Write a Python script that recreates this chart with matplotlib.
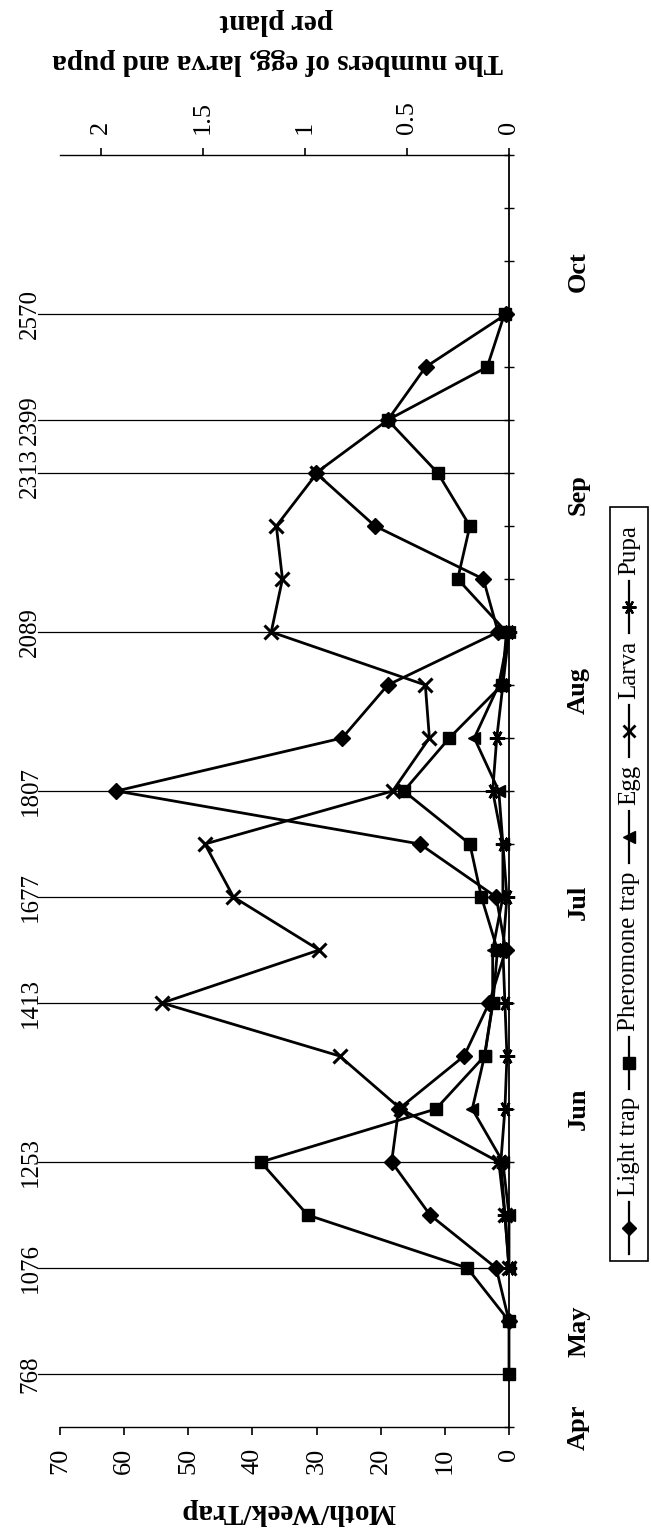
import matplotlib
matplotlib.use('Agg')
import matplotlib.pyplot as plt
from matplotlib.patches import Rectangle
from matplotlib.lines import Line2D

plt.rcParams['font.family'] = ['Liberation Serif', 'DejaVu Serif']

# week index (0 = first trap week) -> drawn bottom to top
pher_weeks = list(range(0, 21))
pheromone = [0, 0, 6.5, 31.4, 38.7, 11.4, 3.8, 2.5, 1.8, 4.3, 6.1, 16.4, 9.3,
             1.1, 0.4, 8.0, 6.1, 11.1, 18.9, 3.4, 0.7]
light_weeks = list(range(1, 21))
light = [0, 2.0, 12.3, 18.3, 17.2, 7.0, 3.1, 0.5, 2.0, 13.9, 61.2, 26.0, 18.9,
         1.7, 4.0, 20.9, 30.1, 18.9, 13.0, 0.4]
egg_weeks = list(range(2, 15))
egg = [0, 0, 0.03, 0.18, 0.12, 0.08, 0.08, 0.03, 0.03, 0.05, 0.17, 0.05, 0.0]
larva_weeks = list(range(2, 18))
larva = [0, 0.02, 0.05, 0.53, 0.83, 1.70, 0.93, 1.35, 1.49, 0.57, 0.39, 0.41,
         1.165, 1.11, 1.14, 0.94]
pupa_weeks = list(range(2, 15))
pupa = [0, 0.02, 0.04, 0.02, 0.01, 0.02, 0.03, 0.01, 0.03, 0.08, 0.06, 0.03, 0.0]

# cumulative degree-day marks
dd_weeks = [0, 2, 4, 7, 9, 11, 14, 17, 18, 20]
dd_labels = ['768', '1076', '1253', '1413', '1677', '1807', '2089', '2313', '2399', '2570']

months = ['Apr', 'May', 'Jun', 'Jul', 'Aug', 'Sep', 'Oct']
month_pos = [-1.0, 0.8, 5.0, 8.9, 12.9, 16.6, 20.8]

W, H = 651, 1534
fig = plt.figure(figsize=(W / 100, H / 100), dpi=100)


def fx(px):
    return px / W


def fy(py):
    return 1 - py / H


ax = fig.add_axes([fx(60), fy(1427), fx(509) - fx(60), fy(155) - fy(1427)])
ax.set_xlim(70, 0)
ax.set_ylim(-1, 23)
ax.patch.set_alpha(0)

ax2 = ax.twiny()
ax2.set_xlim(2.2, 0)

for a in (ax, ax2):
    for s in ('left', 'right', 'top', 'bottom'):
        a.spines[s].set_visible(False)
ax.spines['bottom'].set_visible(True)
ax.spines['right'].set_visible(True)
ax2.spines['top'].set_visible(True)
ax.spines['bottom'].set_linewidth(1.0)
ax.spines['right'].set_linewidth(1.3)
ax2.spines['top'].set_linewidth(1.0)

ax.set_xticks(range(0, 80, 10))
ax.set_xticklabels([str(v) for v in range(0, 80, 10)], rotation=90, fontsize=19)
ax.tick_params(axis='x', direction='out', length=6, width=1.2, pad=9)
ax.set_yticks(range(-1, 24))
ax.tick_params(axis='y', left=False, right=True, labelleft=False, labelright=False,
               direction='inout', length=7, width=1.0)

ax2.set_xticks([0, 0.5, 1, 1.5, 2])
ax2.set_xticklabels(['0', '0.5', '1', '1.5', '2'], rotation=90, fontsize=19)
ax2.tick_params(axis='x', direction='out', length=5, width=1.2, pad=10)

# degree-day lines with labels
tr = ax.get_yaxis_transform()
for w, lab in zip(dd_weeks, dd_labels):
    ax.plot([-0.049, 1.0], [w, w], color='black', lw=0.9, transform=tr,
            clip_on=False, zorder=1)
    ax.text(-0.066, w, lab, rotation=90, ha='center', va='center',
            fontsize=18, transform=tr)

for m, p in zip(months, month_pos):
    ax.text(1.155, p, m, rotation=90, ha='center', va='center', fontsize=19,
            fontweight='bold', transform=tr)

line_kw = dict(color='black', lw=2.0, clip_on=False)
ax.plot(light, light_weeks, marker='D', ms=8, zorder=4, **line_kw)
ax.plot(pheromone, pher_weeks, marker='s', ms=9, zorder=4, **line_kw)
ax2.plot(egg, egg_weeks, marker='<', ms=9, zorder=4, **line_kw)
ax2.plot(larva, larva_weeks, marker='x', ms=10, mew=2.2, zorder=4, **line_kw)
ax2.plot(pupa, pupa_weeks, marker=(6, 2, 90), ms=11, mew=1.8, zorder=4, **line_kw)

# axis titles (upside down, as in the rotated original)
fig.text(fx(278), fy(62), 'The numbers of egg, larva and pupa', rotation=180,
         ha='center', va='center', fontsize=21, fontweight='bold')
fig.text(fx(276), fy(22), 'per plant', rotation=180, ha='center', va='center',
         fontsize=21, fontweight='bold')
fig.text(fx(288), fy(1512), 'Moth/Week/Trap', rotation=180, ha='center',
         va='center', fontsize=21, fontweight='bold')

# legend, drawn by hand because it is rotated
fig.patches.append(Rectangle((fx(610), fy(1261)), fx(648) - fx(610), fy(507) - fy(1261),
                             transform=fig.transFigure, fill=False, lw=1.2,
                             edgecolor='black'))
leg_names = ['Light trap', 'Pheromone trap', 'Egg', 'Larva', 'Pupa']
leg_marks = [('D', 7, 1), ('s', 8, 1), ('<', 8, 1), ('x', 9, 2), ((6, 2, 90), 10, 1.6)]
renderer = fig.canvas.get_renderer()
y = 1254
cx = 629
for name, (mk, ms, mew) in zip(leg_names, leg_marks):
    fig.lines.append(Line2D([fx(cx), fx(cx)], [fy(y), fy(y - 52)], color='black', lw=1.6,
                            marker=None, transform=fig.transFigure))
    fig.lines.append(Line2D([fx(cx)], [fy(y - 26)], color='black', marker=mk, ms=ms,
                            mew=mew, transform=fig.transFigure))
    t = fig.text(fx(cx), fy(y - 58), name, rotation=90, ha='center', va='bottom',
                 fontsize=18)
    ext = t.get_window_extent(renderer)
    y = y - 58 - ext.height - 8

fig.savefig('out.png', dpi=100)
